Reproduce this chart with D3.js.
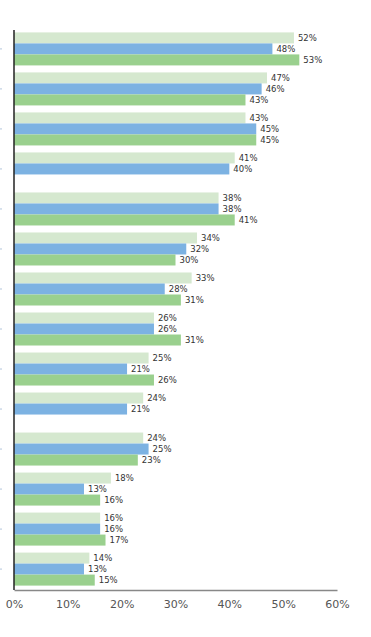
<!DOCTYPE html>
<html>
<head>
<meta charset="utf-8">
<script src="https://cdn.jsdelivr.net/npm/d3@7"></script>
<style>
  body { margin: 0; background: #fff; }
  svg { display: block; font-family: "DejaVu Sans", sans-serif; }
</style>
</head>
<body>
<script>
// one entry per row group, top to bottom
var categories = ['g1','g2','g3','g4','g5','g6','g7','g8','g9','g10','g11','g12','g13','g14'];
var seriesNames = ['a', 'b', 'c'];
// null = no bar in that slot
var seriesA = [52, 47, 43, 41, 38, 34, 33, 26, 25, 24, 24, 18, 16, 14];
var seriesB = [48, 46, 45, 40, 38, 32, 28, 26, 21, 21, 25, 13, 16, 13];
var seriesC = [53, 43, 45, null, 41, 30, 31, 31, 26, null, 23, 16, 17, 15];
var xTicks = [0, 10, 20, 30, 40, 50, 60];
var colors = ['#d5e8cf', '#7cb2e2', '#9ad08e'];

var width = 371, height = 637;
var plotLeft = 14, plotRight = 337, plotTop = 28, plotBottom = 590;

var svg = d3.select('body').append('svg')
  .attr('width', width)
  .attr('height', height);

var x = d3.scaleLinear().domain([0, 60]).range([plotLeft, plotRight]);
var y = d3.scaleBand().domain(categories).range([plotTop, plotBottom])
  .paddingInner(0.175).paddingOuter(0.11);
var yInner = d3.scaleBand().domain(seriesNames).range([0, y.bandwidth()]);

var all = [seriesA, seriesB, seriesC];

var groups = svg.selectAll('g.grp')
  .data(categories)
  .enter().append('g')
  .attr('class', 'grp')
  .attr('transform', function(d) { return 'translate(0,' + y(d) + ')'; });

groups.each(function(cat, i) {
  var g = d3.select(this);
  var rows = [];
  all.forEach(function(s, j) {
    if (s[i] != null) rows.push({ name: seriesNames[j], v: s[i], c: colors[j] });
  });

  g.selectAll('rect')
    .data(rows)
    .enter().append('rect')
    .attr('x', x(0))
    .attr('y', function(d) { return yInner(d.name); })
    .attr('width', function(d) { return x(d.v) - x(0); })
    .attr('height', yInner.bandwidth())
    .attr('fill', function(d) { return d.c; });

  g.selectAll('text')
    .data(rows)
    .enter().append('text')
    .attr('x', function(d) { return x(d.v) + 4; })
    .attr('y', function(d) { return yInner(d.name) + yInner.bandwidth() / 2; })
    .attr('dy', '0.35em')
    .attr('font-size', 8.5)
    .attr('fill', '#333')
    .text(function(d) { return d.v + '%'; });

  // little stub of the cut-off category label at the far left
  g.append('line')
    .attr('x1', 0).attr('x2', 2)
    .attr('y1', y.bandwidth() / 2).attr('y2', y.bandwidth() / 2)
    .attr('stroke', '#b3c6dc')
    .attr('stroke-width', 1);
});

// x axis
var xAxis = svg.append('g')
  .attr('transform', 'translate(0,' + plotBottom + ')')
  .call(d3.axisBottom(x).tickValues(xTicks).tickSize(0).tickPadding(10)
    .tickFormat(function(d) { return d + '%'; }));
xAxis.select('.domain').attr('stroke', '#888').attr('stroke-width', 1.5);
xAxis.selectAll('text')
  .attr('font-size', 11)
  .attr('font-family', '"DejaVu Sans", sans-serif')
  .attr('fill', '#555');

// y axis line
svg.append('line')
  .attr('x1', plotLeft).attr('x2', plotLeft)
  .attr('y1', 30).attr('y2', plotBottom)
  .attr('stroke', '#222')
  .attr('stroke-width', 1.5);
</script>
</body>
</html>
